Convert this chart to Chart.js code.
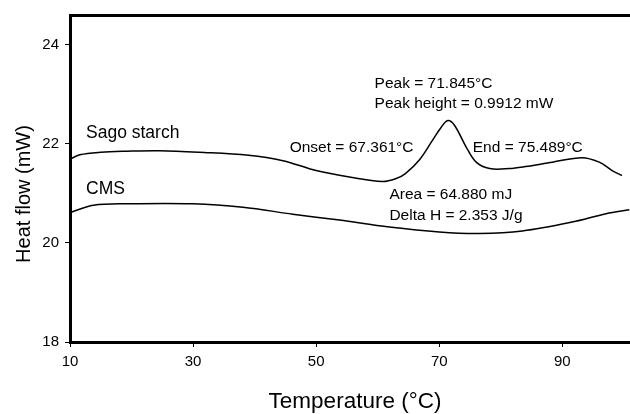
<!DOCTYPE html>
<html>
<head>
<meta charset="utf-8">
<script src="https://cdn.jsdelivr.net/npm/chart.js@4"></script>
<style>
  html, body { margin: 0; padding: 0; background: #fff; }
  #wrap { width: 630px; height: 414px; position: relative; }
</style>
</head>
<body>
<div id="wrap"><canvas id="c"></canvas></div>
<script>
// ---- data ----
const sagoTemp = [10, 11.6, 15, 19.2, 24.6, 31, 39, 44.6, 50, 55.4, 60.8, 63.0, 64.5, 66.8, 68.9, 70.3, 71.4, 72.5, 74.4, 76.0, 78.2, 81.4, 84, 88.4, 93.2, 96.0, 98.1, 99.7];
const sagoHeat = [21.69, 21.78, 21.83, 21.85, 21.86, 21.83, 21.77, 21.66, 21.46, 21.33, 21.24, 21.30, 21.40, 21.68, 22.07, 22.33, 22.47, 22.37, 21.93, 21.63, 21.50, 21.50, 21.54, 21.63, 21.72, 21.63, 21.46, 21.36];
const cmsTemp = [10.2, 13.8, 19.2, 30, 38.1, 46.2, 53.8, 61.9, 70.0, 76.5, 83.5, 91.6, 97.1, 100.9];
const cmsHeat = [20.62, 20.76, 20.79, 20.79, 20.72, 20.58, 20.46, 20.32, 20.22, 20.19, 20.24, 20.42, 20.59, 20.67];
const xTicks = [10, 30, 50, 70, 90];
const yTicks = [18, 20, 22, 24];
const seriesLabels = ["Sago starch", "CMS"];
const annotationTexts = ["Peak = 71.845°C", "Peak height = 0.9912 mW", "Onset = 67.361°C", "End = 75.489°C", "Area = 64.880 mJ", "Delta H = 2.353 J/g"];
const xTitle = "Temperature (°C)";
const yTitle = "Heat flow (mW)";

const FONT = '"Liberation Sans", Arial, Helvetica, sans-serif';

function pairs(xs, ys) { return xs.map((x, i) => ({ x: x, y: ys[i] })); }

// label anchors in data units (x = temperature, y = heat flow baseline)
const labelPlugin = {
  id: 'labels',
  afterDatasetsDraw(chart) {
    const ctx = chart.ctx, xs = chart.scales.x, ys = chart.scales.y;
    const items = [
      { t: seriesLabels[0], x: 12.6, y: 22.12, size: 17.5 },
      { t: seriesLabels[1], x: 12.6, y: 20.98, size: 17.5 },
      { t: annotationTexts[0], x: 59.5, y: 23.13, size: 15.5 },
      { t: annotationTexts[1], x: 59.5, y: 22.72, size: 15.5 },
      { t: annotationTexts[2], x: 45.7, y: 21.83, size: 15.5 },
      { t: annotationTexts[3], x: 75.45, y: 21.83, size: 15.5 },
      { t: annotationTexts[4], x: 61.9, y: 20.88, size: 15.5 },
      { t: annotationTexts[5], x: 61.9, y: 20.47, size: 15.5 }
    ];
    ctx.save();
    ctx.fillStyle = '#000';
    ctx.textAlign = 'left';
    ctx.textBaseline = 'alphabetic';
    items.forEach(it => {
      ctx.font = it.size + 'px ' + FONT;
      ctx.fillText(it.t, xs.getPixelForValue(it.x), ys.getPixelForValue(it.y));
    });
    // axis titles
    const area = chart.chartArea;
    ctx.textAlign = 'center';
    ctx.font = '22.5px ' + FONT;
    ctx.fillText(xTitle, (area.left + area.right) / 2 + 5, chart.height - 6);
    ctx.save();
    ctx.translate(30, area.top + 179);
    ctx.rotate(-Math.PI / 2);
    ctx.font = '20px ' + FONT;
    ctx.fillText(yTitle, 0, 0);
    ctx.restore();
    ctx.restore();
  }
};

new Chart(document.getElementById('c'), {
  type: 'line',
  data: {
    datasets: [
      { label: seriesLabels[0], data: pairs(sagoTemp, sagoHeat), borderColor: '#000', borderWidth: 1.5, pointRadius: 0, tension: 0.35, fill: false },
      { label: seriesLabels[1], data: pairs(cmsTemp, cmsHeat), borderColor: '#000', borderWidth: 1.5, pointRadius: 0, tension: 0.35, fill: false }
    ]
  },
  options: {
    responsive: true,
    maintainAspectRatio: false,
    animation: false,
    layout: { padding: 0 },
    plugins: { legend: { display: false }, tooltip: { enabled: false } },
    scales: {
      x: {
        type: 'linear', position: 'bottom', min: 10, max: 101,
        afterBuildTicks: s => { s.ticks = xTicks.map(v => ({ value: v })); },
        afterFit: s => { s.height = 72; },
        border: { display: true, color: '#000', width: 3 },
        grid: { display: true, drawOnChartArea: false, drawTicks: true, tickLength: 5, color: '#000', lineWidth: 1 },
        ticks: { color: '#000', font: { family: FONT, size: 15 }, padding: 6, maxRotation: 0 }
      },
      xTop: {
        type: 'linear', position: 'top', min: 10, max: 101,
        afterFit: s => { s.height = 13; },
        border: { display: true, color: '#000', width: 3 },
        grid: { display: false },
        ticks: { display: false }
      },
      y: {
        type: 'linear', position: 'left', min: 18, max: 24.6,
        afterBuildTicks: s => { s.ticks = yTicks.map(v => ({ value: v })); },
        afterFit: s => { s.width = 70; },
        border: { display: true, color: '#000', width: 3 },
        grid: { display: true, drawOnChartArea: false, drawTicks: true, tickLength: 5, color: '#000', lineWidth: 1 },
        ticks: { color: '#000', font: { family: FONT, size: 15 }, padding: 6 }
      }
    }
  },
  plugins: [labelPlugin]
});
</script>
</body>
</html>
